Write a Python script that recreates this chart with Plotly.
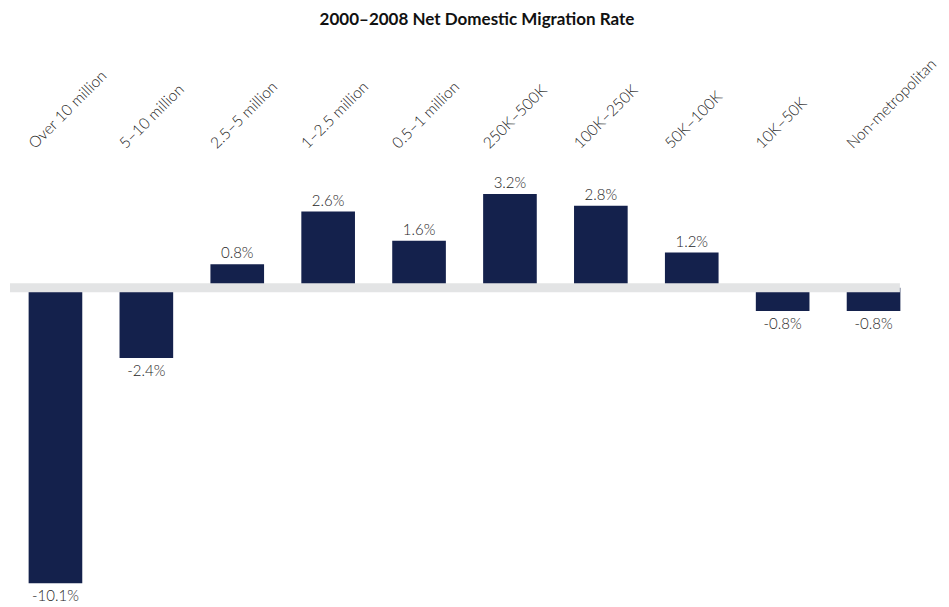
import plotly.graph_objects as go

categories = ["Over 10 million", "5–10 million", "2.5–5 million", "1–2.5 million",
              "0.5–1 million", "250K–500K", "100K–250K", "50K–100K", "10K–50K",
              "Non-metropolitan"]
rates = [-10.1, -2.4, 0.8, 2.6, 1.6, 3.2, 2.8, 1.2, -0.8, -0.8]
labels = [f"{v:.1f}%" for v in rates]

FONT = "Lato, 'Open Sans', sans-serif"
BAR = "#14214c"
TXT = "#1e1e1e"

fig = go.Figure(go.Bar(
    x=categories, y=rates, text=labels, textposition="outside",
    textfont=dict(family=FONT, size=15, color=TXT, weight=300),
    marker=dict(color=BAR, line=dict(width=0)),
    cliponaxis=False, hoverinfo="skip",
))

fig.add_shape(type="line", xref="paper", yref="y", x0=0, x1=0.979, y0=0, y1=0,
              line=dict(color="#e3e4e5", width=9), layer="above")

fig.update_layout(
    width=949, height=607,
    margin=dict(l=1.5, r=38, t=147.6, b=19.8),
    paper_bgcolor="white", plot_bgcolor="white",
    bargap=0.41,
    showlegend=False,
    title=dict(text="<b>2000–2008 Net Domestic Migration Rate</b>",
               x=469 / 949, xanchor="center", y=1 - 11 / 607, yanchor="middle",
               font=dict(family=FONT, size=17, color="#111111")),
    xaxis=dict(side="top", tickangle=-45, showgrid=False, showline=False,
               ticks="", zeroline=False, ticklabelshift=-26,
               tickfont=dict(family=FONT, size=15.5, color=TXT, weight=300)),
    yaxis=dict(range=[-10.5, 4.5], visible=False, showgrid=False, zeroline=False),
)

fig.write_html("out.html")
